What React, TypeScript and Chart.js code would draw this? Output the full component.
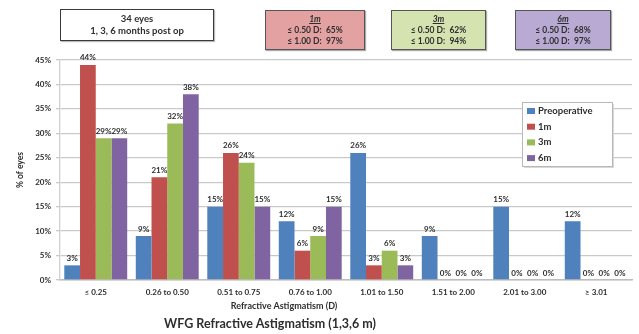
import React, { useEffect, useRef } from "react";
import { Chart, registerables } from "chart.js";

Chart.register(...registerables);

const categories = ["≤ 0.25", "0.26 to 0.50", "0.51 to 0.75", "0.76 to 1.00", "1.01 to 1.50", "1.51 to 2.00", "2.01 to 3.00", "≥ 3.01"];
const seriesNames = ["Preoperative", "1m", "3m", "6m"];
const preoperative = [3, 9, 15, 12, 26, 9, 15, 12];
const month1 = [44, 21, 26, 6, 3, 0, 0, 0];
const month3 = [29, 32, 24, 9, 6, 0, 0, 0];
const month6 = [29, 38, 15, 15, 3, 0, 0, 0];
const seriesColors = ["#4F81BD", "#C0504D", "#9BBB59", "#8064A2"];
const yTicks = [0, 5, 10, 15, 20, 25, 30, 35, 40, 45];

const FONT = "Lato, 'Open Sans', sans-serif";

// Summary boxes shown above the plot
const summaryBoxes = [
  { title: "1m", within050: "65%", within100: "97%", fill: "#E3A2A1", left: 265, width: 100 },
  { title: "3m", within050: "62%", within100: "94%", fill: "#D5E3B0", left: 391, width: 95 },
  { title: "6m", within050: "68%", within100: "97%", fill: "#B9AAD3", left: 515, width: 96 },
];

const valueLabels = {
  id: "valueLabels",
  afterDatasetsDraw(chart: any) {
    const ctx = chart.ctx;
    ctx.save();
    ctx.font = `bold 8px ${FONT}`;
    ctx.fillStyle = "#2e2e2e";
    ctx.textAlign = "center";
    ctx.textBaseline = "bottom";
    chart.data.datasets.forEach((ds: any, di: number) => {
      const meta = chart.getDatasetMeta(di);
      meta.data.forEach((bar: any, i: number) => {
        ctx.fillText(`${ds.data[i]}%`, bar.x, bar.y - 3);
      });
    });
    ctx.restore();
  },
};

const boxLegend = {
  id: "boxLegend",
  afterDraw(chart: any) {
    const ctx = chart.ctx;
    const x = 522, y = 102, w = 90, h = 64;
    ctx.save();
    ctx.fillStyle = "#d8d8d8";
    ctx.fillRect(x + 2, y + 2, w, h);
    ctx.fillStyle = "#ffffff";
    ctx.fillRect(x, y, w, h);
    ctx.strokeStyle = "#b8b8b8";
    ctx.lineWidth = 1;
    ctx.strokeRect(x + 0.5, y + 0.5, w, h);
    ctx.font = `bold 9.5px ${FONT}`;
    ctx.textBaseline = "middle";
    ctx.textAlign = "left";
    chart.data.datasets.forEach((ds: any, i: number) => {
      const cy = y + 9 + i * 15.7;
      ctx.fillStyle = ds.backgroundColor;
      ctx.fillRect(x + 5, cy - 3, 8, 6);
      ctx.fillStyle = "#2e2e2e";
      ctx.fillText(ds.label, x + 16, cy);
    });
    ctx.restore();
  },
};

export default function App() {
  const canvasRef = useRef<HTMLCanvasElement>(null);

  useEffect(() => {
    if (!canvasRef.current) return;
    const seriesData = [preoperative, month1, month3, month6];
    const chart = new Chart(canvasRef.current, {
      type: "bar",
      data: {
        labels: categories,
        datasets: seriesNames.map((name, i) => ({
          label: name,
          data: seriesData[i],
          backgroundColor: seriesColors[i],
          borderWidth: 0,
          categoryPercentage: 0.88,
          barPercentage: 1.0,
        })),
      },
      options: {
        animation: false,
        responsive: false,
        devicePixelRatio: 1,
        layout: { padding: { left: 0, top: 60, right: 7, bottom: 0 } },
        plugins: {
          legend: { display: false },
          title: { display: false },
          tooltip: { enabled: false },
        },
        scales: {
          x: {
            grid: { display: false, drawTicks: false },
            border: { display: true, color: "#bdbdbd", width: 1.5 },
            ticks: {
              color: "#2e2e2e",
              font: { family: FONT, size: 8, weight: "bold" },
              padding: 8,
              maxRotation: 0,
              autoSkip: false,
            },
            afterFit: (scale: any) => {
              scale.height = 54;
            },
          },
          y: {
            min: 0,
            max: 45,
            afterBuildTicks: (scale: any) => {
              scale.ticks = yTicks.map((v) => ({ value: v }));
            },
            grid: { color: "#c9c9c9", lineWidth: 1.3, tickLength: 4 },
            border: { display: true, color: "#d0d0d0", width: 1.3 },
            ticks: {
              color: "#2e2e2e",
              font: { family: FONT, size: 8, weight: "bold" },
              padding: 5,
              callback: (v: any) => `${v}%`,
            },
            title: {
              display: true,
              text: "% of eyes",
              color: "#2e2e2e",
              font: { family: FONT, size: 8.5, weight: "bold" },
              padding: { top: 15, bottom: 10 },
            },
            afterFit: (scale: any) => {
              scale.width = 60;
            },
          },
        },
      },
      plugins: [valueLabels, boxLegend],
    });
    return () => chart.destroy();
  }, []);

  const textStyle: React.CSSProperties = {
    fontFamily: FONT,
    fontWeight: "bold",
    color: "#2e2e2e",
    position: "absolute",
    whiteSpace: "nowrap",
  };

  return (
    <div style={{ position: "absolute", left: 0, top: 0, width: 639, height: 334, background: "#ffffff", overflow: "hidden" }}>
      <canvas ref={canvasRef} width={639} height={334} style={{ position: "absolute", left: 0, top: 0, width: 639, height: 334 }} />
      <div
        style={{
          ...textStyle,
          left: 60,
          top: 9,
          width: 154,
          height: 32,
          border: "1px solid #3a3a3a",
          background: "#ffffff",
          fontSize: 9.5,
          lineHeight: "12px",
          textAlign: "center",
          paddingTop: 3,
          boxSizing: "border-box",
          boxShadow: "1px 1px 1px #bbbbbb",
        }}
      >
        <div>34 eyes</div>
        <div>1, 3, 6 months post op</div>
      </div>
      {summaryBoxes.map((b) => (
        <div
          key={b.title}
          style={{
            ...textStyle,
            left: b.left,
            top: 10,
            width: b.width,
            height: 40,
            border: "1px solid #555555",
            background: b.fill,
            fontSize: 8.5,
            lineHeight: "11px",
            textAlign: "center",
            paddingTop: 3,
            boxSizing: "border-box",
            boxShadow: "1px 1px 1px #aaaaaa",
          }}
        >
          <div style={{ fontStyle: "italic", textDecoration: "underline" }}>{b.title}</div>
          <div>≤ 0.50 D:&nbsp;&nbsp;{b.within050}</div>
          <div>≤ 1.00 D:&nbsp;&nbsp;{b.within100}</div>
        </div>
      ))}
      <div style={{ ...textStyle, left: 184, width: 200, top: 300, fontSize: 9, textAlign: "center" }}>
        Refractive Astigmatism (D)
      </div>
      <div style={{ ...textStyle, left: 120, width: 300, top: 316, fontSize: 12.5, textAlign: "center" }}>
        WFG Refractive Astigmatism (1,3,6 m)
      </div>
    </div>
  );
}
